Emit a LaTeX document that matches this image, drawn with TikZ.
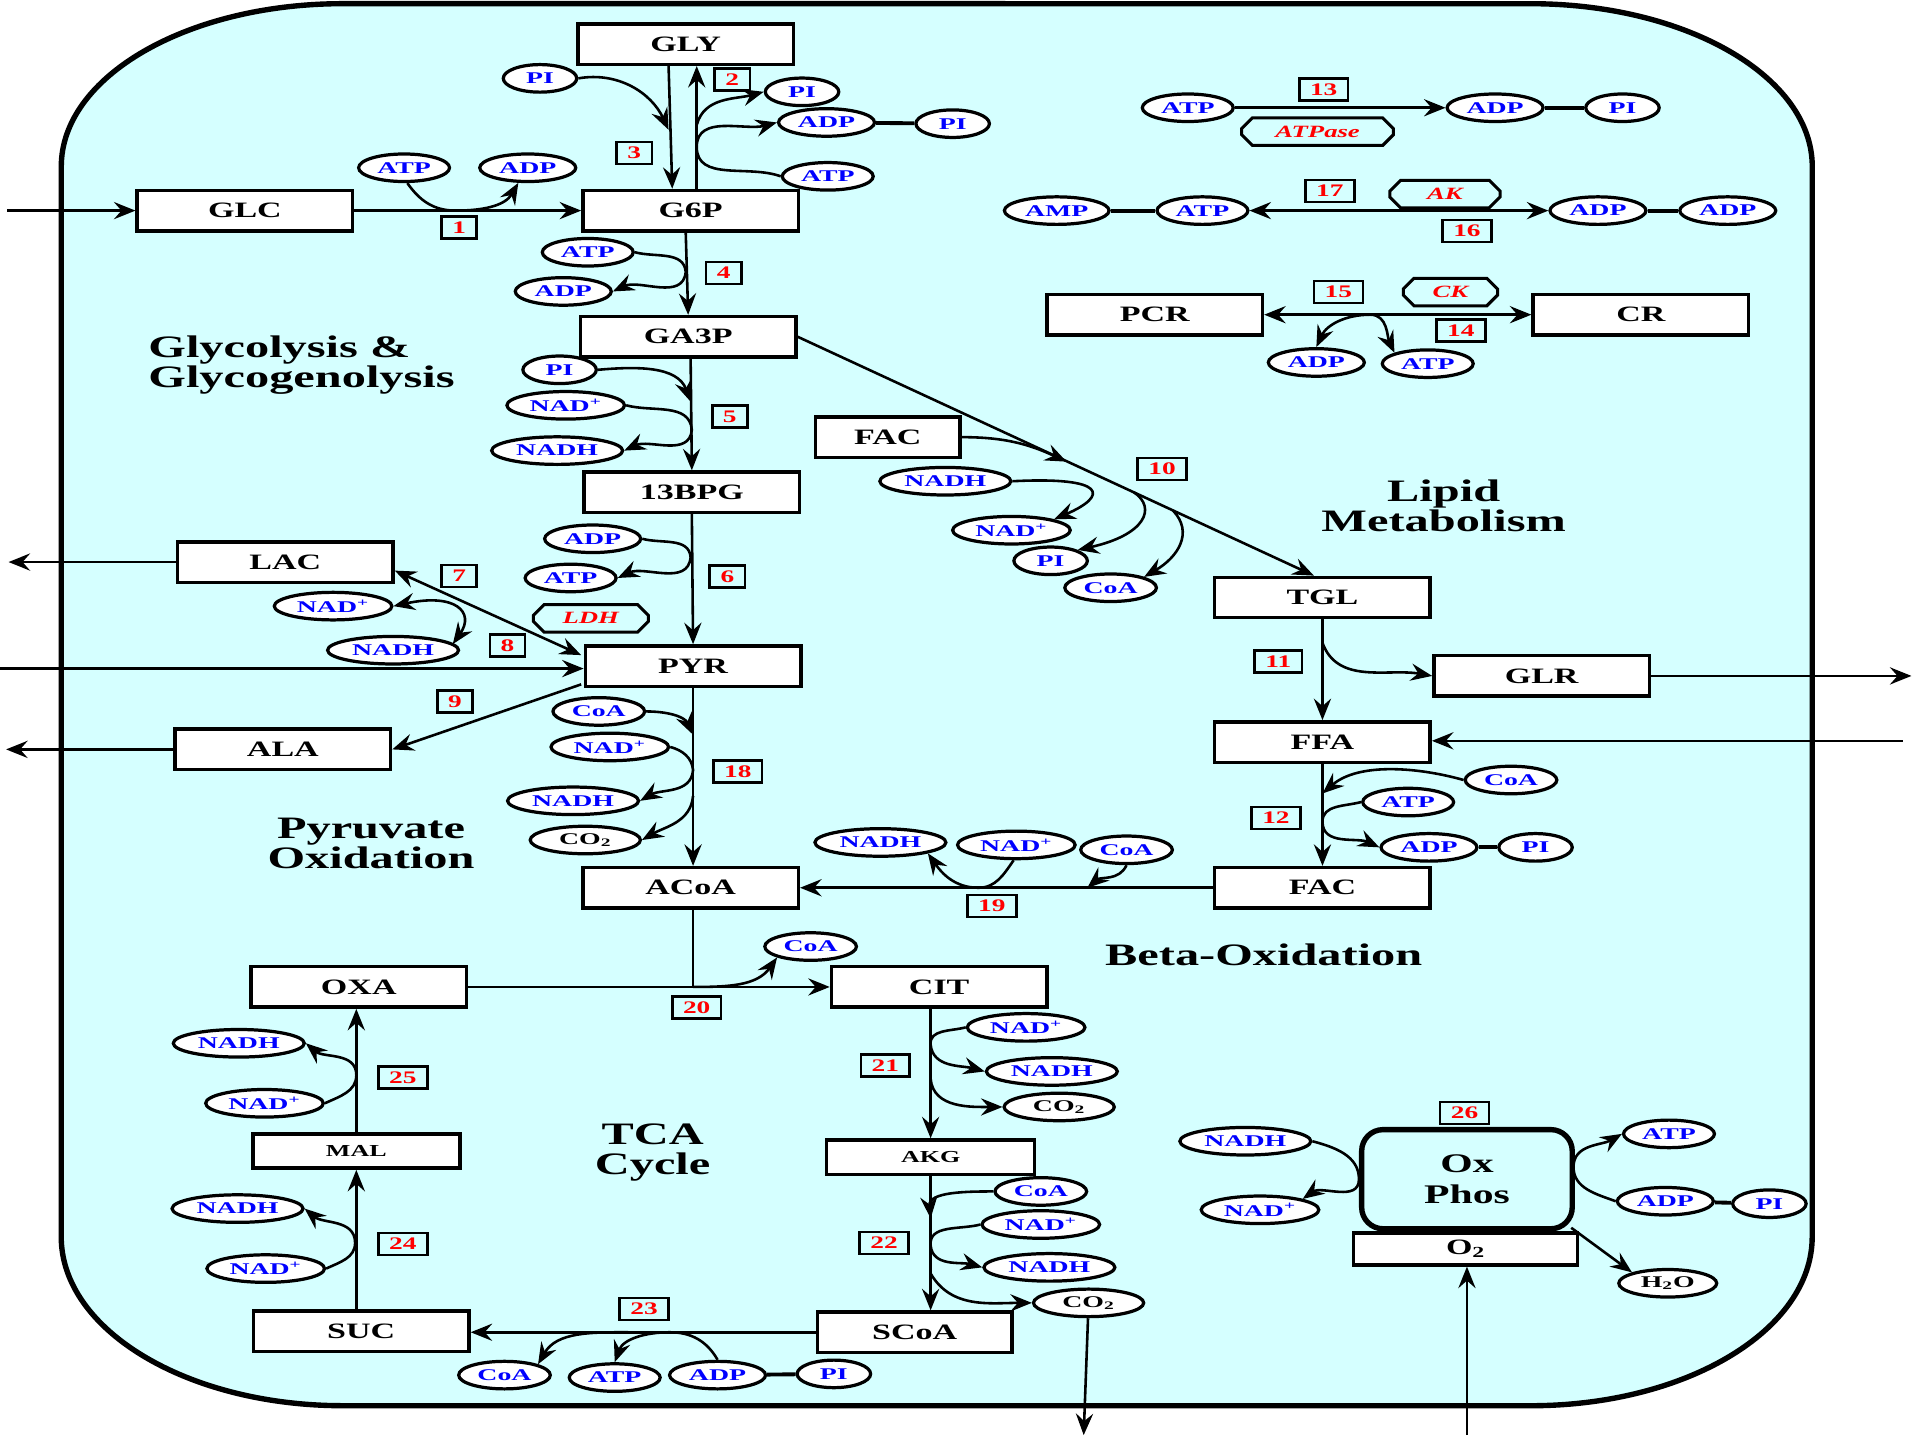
\documentclass[tikz,border=0pt]{standalone}
\usepackage{fontspec}
\setmainfont{Liberation Serif}[FakeStretch=1.55]
\newfontfamily\molfont{Liberation Serif}[FakeStretch=1.7]
\usepackage{tikz}
\usetikzlibrary{arrows.meta,calc,positioning,shapes.geometric,shapes.misc}
\definecolor{cellbg}{HTML}{D5FFFF}
\definecolor{molblue}{HTML}{0000FF}
\definecolor{numred}{HTML}{FF0000}
\newcommand{\nadp}{NAD\textsuperscript{+}}
\tikzset{%
  arrow/.style={line width=1.2pt,-{Stealth[length=10pt,width=8pt,inset=3.5pt]}},
  biarrow/.style={line width=1.2pt,{Stealth[length=10pt,width=8pt,inset=3.5pt]}-{Stealth[length=10pt,width=8pt,inset=3.5pt]}},
  link/.style={line width=1.8pt},
  cell/.style={fill=cellbg,line width=2.5pt},
  metab/.style={draw,fill=white,line width=1.6pt,minimum width=3.52cm,minimum height=0.66cm,inner sep=0pt,font=\fontsize{10.2}{11}\selectfont\bfseries},
  minor/.style={minimum height=0.56cm,font=\fontsize{7.8}{8}\selectfont\bfseries},
  mol/.style={ellipse,draw,fill=white,line width=1.5pt,minimum height=0.45cm,minimum width=1.2cm,inner xsep=2.5pt,inner ysep=1pt,text=molblue,font=\molfont\bfseries\fontsize{7.6}{8}\selectfont},
  gas/.style={mol,text=black,minimum width=1.8cm},
  enzyme/.style={chamfered rectangle,chamfered rectangle xsep=2.5pt,chamfered rectangle ysep=2.5pt,draw,line width=1.4pt,minimum height=0.45cm,inner sep=1pt,text=numred,font=\fontsize{8}{8}\selectfont\bfseries\itshape},
  rnum/.style={draw,line width=1.2pt,inner xsep=5pt,inner ysep=0pt,minimum height=0.36cm,text=numred,font=\fontsize{8.2}{8}\selectfont\bfseries},
  region/.style={align=center,font=\fontsize{14.5}{13.8}\selectfont\bfseries},
  oxbox/.style={draw,fill=cellbg,rounded corners=0.35cm,line width=2.5pt,minimum width=3.44cm,minimum height=1.62cm,align=center,font=\fontsize{12.5}{14.7}\selectfont\bfseries},
}

\begin{document}
\begin{tikzpicture}[x=0.02cm,y=0.02cm]
  \useasboundingbox (0,0) rectangle (1568,-1176);
  % cell
  \draw[cell] (50,-136) -- (50,-1010) arc[start angle=180,end angle=270,x radius=4.6cm,y radius=2.76cm]
    -- (1250,-1148) arc[start angle=270,end angle=360,x radius=4.6cm,y radius=2.76cm]
    -- (1480,-136) arc[start angle=0,end angle=90,x radius=4.6cm,y radius=2.66cm]
    -- (280,-3) arc[start angle=90,end angle=180,x radius=4.6cm,y radius=2.66cm] -- cycle;

  % metabolites
  \node[metab] (gly) at (560,-36) {GLY};
  \node[metab] (glc) at (200,-172) {GLC};
  \node[metab] (g6p) at (564,-172) {G6P};
  \node[metab] (ga3p) at (562,-275) {GA3P};
  \node[metab] (bpg) at (565,-402) {13BPG};
  \node[metab] (lac) at (233,-459) {LAC};
  \node[metab] (pyr) at (566,-544) {PYR};
  \node[metab] (ala) at (231,-612) {ALA};
  \node[metab] (acoa) at (564,-725) {ACoA};
  \node[metab] (oxa) at (293,-806) {OXA};
  \node[metab] (cit) at (767,-806) {CIT};
  \node[metab,minor,minimum width=3.38cm] (mal) at (291,-940) {MAL};
  \node[metab,minor,minimum width=3.4cm] (akg) at (760,-945) {AKG};
  \node[metab] (suc) at (295,-1087) {SUC};
  \node[metab,minimum width=3.18cm] (scoa) at (747,-1088) {SCoA};
  \node[metab,minimum width=2.36cm] (facup) at (725,-357) {FAC};
  \node[metab] (tgl) at (1080,-488) {TGL};
  \node[metab] (glr) at (1259,-552) {GLR};
  \node[metab] (ffa) at (1080,-606) {FFA};
  \node[metab] (faclow) at (1080,-725) {FAC};
  \node[metab] (pcr) at (943,-257) {PCR};
  \node[metab] (cr) at (1340,-257) {CR};
  \node[oxbox] (ox) at (1198,-963) {Ox\\Phos};
  \node[metab,minimum width=3.66cm,minimum height=0.52cm] (o2) at (1197,-1020) {O\textsubscript{2}};

  % cofactors
  \node[mol] (atp1) at (330,-137) {ATP};
  \node[mol] (adp1) at (431,-137) {ADP};
  \node[mol] (pi3) at (441,-64) {PI};
  \node[mol] (pi2) at (655,-75) {PI};
  \node[mol] (adp2) at (675,-100) {ADP};
  \node[mol] (pi2b) at (778,-101) {PI};
  \node[mol] (atp2) at (676,-144) {ATP};
  \node[mol] (atp4) at (480,-206) {ATP};
  \node[mol] (adp4) at (460,-238) {ADP};
  \node[mol] (pi5) at (457,-302) {PI};
  \node[mol] (nad5) at (462,-331) {\nadp};
  \node[mol] (nadh5) at (455,-368) {NADH};
  \node[mol] (adp6) at (484,-440) {ADP};
  \node[mol] (atp6) at (466,-472) {ATP};
  \node[mol] (nad7) at (272,-495) {\nadp};
  \node[mol] (nadh7) at (321,-531) {NADH};
  \node[mol] (coa18) at (489,-581) {CoA};
  \node[mol] (nad18) at (498,-610) {\nadp};
  \node[mol] (nadh18) at (468,-654) {NADH};
  \node[gas] (co218) at (478,-686) {CO\textsubscript{2}};
  \node[mol] (nadh19) at (719,-688) {NADH};
  \node[mol] (nad19) at (830,-690) {\nadp};
  \node[mol] (coa19) at (920,-694) {CoA};
  \node[mol] (coa20) at (662,-773) {CoA};
  \node[mol] (nad21) at (838,-839) {\nadp};
  \node[mol] (nadh21) at (859,-875) {NADH};
  \node[gas] (co221) at (865,-904) {CO\textsubscript{2}};
  \node[mol] (coa22) at (850,-973) {CoA};
  \node[mol] (nad22) at (850,-1000) {\nadp};
  \node[mol] (nadh22) at (857,-1035) {NADH};
  \node[gas] (co222) at (889,-1064) {CO\textsubscript{2}};
  \node[mol] (coa23) at (412,-1123) {CoA};
  \node[mol] (atp23) at (502,-1125) {ATP};
  \node[mol] (adp23) at (586,-1123) {ADP};
  \node[mol] (pi23) at (681,-1122) {PI};
  \node[mol] (nadh25) at (195,-852) {NADH};
  \node[mol] (nad25) at (216,-901) {\nadp};
  \node[mol] (nadh24) at (194,-987) {NADH};
  \node[mol] (nad24) at (217,-1036) {\nadp};
  \node[mol] (nadh10) at (772,-393) {NADH};
  \node[mol] (nad10) at (826,-433) {\nadp};
  \node[mol] (pi10) at (858,-458) {PI};
  \node[mol] (coa10) at (907,-480) {CoA};
  \node[mol] (coa12) at (1234,-637) {CoA};
  \node[mol] (atp12) at (1150,-655) {ATP};
  \node[mol] (adp12) at (1167,-692) {ADP};
  \node[mol] (pi12) at (1254,-692) {PI};
  \node[mol] (nadh26) at (1017,-932) {NADH};
  \node[mol] (nad26) at (1029,-988) {\nadp};
  \node[mol] (atp26) at (1363,-926) {ATP};
  \node[mol] (adp26) at (1360,-981) {ADP};
  \node[mol] (pi26) at (1445,-983) {PI};
  \node[gas,minimum width=1.6cm] (h2o26) at (1362,-1048) {H\textsubscript{2}O};
  \node[mol] (atp13) at (970,-88) {ATP};
  \node[mol] (adp13) at (1221,-88) {ADP};
  \node[mol] (pi13) at (1325,-88) {PI};
  \node[mol] (amp17) at (863,-172) {AMP};
  \node[mol] (atp17) at (982,-172) {ATP};
  \node[mol] (adp16) at (1305,-172) {ADP};
  \node[mol] (adp16b) at (1411,-172) {ADP};
  \node[mol] (adp14) at (1075,-296) {ADP};
  \node[mol] (atp14) at (1166,-297) {ATP};

  % enzymes
  \node[enzyme,minimum width=2.48cm] (atpase) at (1076,-107.5) {ATPase};
  \node[enzyme,minimum width=1.8cm] (ak) at (1180,-158.5) {AK};
  \node[enzyme,minimum width=1.54cm] (ck) at (1184.5,-238.5) {CK};
  \node[enzyme,minimum width=1.88cm] (ldh) at (482.5,-505) {LDH};

  % reaction numbers
  \node[rnum] (n1) at (375,-186) {1};
  \node[rnum] (n2) at (598,-65) {2};
  \node[rnum] (n3) at (518,-125) {3};
  \node[rnum] (n4) at (591,-223) {4};
  \node[rnum] (n5) at (596,-340) {5};
  \node[rnum] (n6) at (594,-471) {6};
  \node[rnum] (n7) at (375,-470.5) {7};
  \node[rnum] (n8) at (414.5,-527) {8};
  \node[rnum] (n9) at (371.5,-573) {9};
  \node[rnum] (n10) at (949,-383) {10};
  \node[rnum] (n11) at (1044,-540) {11};
  \node[rnum] (n12) at (1042,-668) {12};
  \node[rnum] (n13) at (1081,-73) {13};
  \node[rnum] (n14) at (1193,-270) {14};
  \node[rnum] (n15) at (1093,-238.5) {15};
  \node[rnum] (n16) at (1198,-188.5) {16};
  \node[rnum] (n17) at (1086,-156) {17};
  \node[rnum] (n18) at (602.5,-630) {18};
  \node[rnum] (n19) at (810,-740) {19};
  \node[rnum] (n20) at (569,-823) {20};
  \node[rnum] (n21) at (723,-870) {21};
  \node[rnum] (n22) at (722,-1015) {22};
  \node[rnum] (n23) at (526,-1069) {23};
  \node[rnum] (n24) at (329,-1016) {24};
  \node[rnum] (n25) at (329,-880) {25};
  \node[rnum] (n26) at (1196,-909) {26};

  % pathway labels
  \node[region,anchor=west,align=left] (glyco) at (115,-298) {Glycolysis \&\\Glycogenolysis};
  \node[region] (pyrox) at (303,-689) {Pyruvate\\Oxidation};
  \node[region] (lipid) at (1179,-413) {Lipid\\Metabolism};
  \node[region] (beta) at (1032,-780) {Beta-Oxidation};
  \node[region] (tca) at (533,-941) {TCA\\Cycle};

  % glycolysis and glycogen
  \coordinate (glcin) at (6,-172);
  \draw[arrow] (glcin) -- (glc.west);
  \draw[arrow] (glc.east) -- (g6p.west);
  \coordinate (j1) at (372,-172);
  \draw[arrow] (atp1.-78) to[out=-55,in=180] (j1) to[out=0,in=-120] (adp1.-122);
  \draw[arrow] ($(gly.south)+(-14,0)$) -- ($(g6p.north)+(-15,0)$);
  \draw[arrow] ($(g6p.north)+(5,0)$) -- ($(gly.south)+(9,0)$);
  \coordinate (j3) at (546,-106);
  \draw[arrow] (pi3.east) to[out=10,in=115] (j3);
  \coordinate (j2a) at (569,-102);
  \draw[arrow] (j2a) to[out=75,in=195] (pi2.west);
  \coordinate (j2b) at (569,-120);
  \draw[arrow] (atp2.west) to[out=160,in=-90] (j2b) to[out=90,in=195] (adp2.west);
  \draw[link] (adp2) -- (pi2b);
  \draw[arrow] ($(g6p.south)+(-4,0)$) -- (ga3p.north);
  \coordinate (j4) at (560,-222);
  \draw[arrow] (atp4.east) to[out=-15,in=95] (j4) to[out=-95,in=25] (adp4.east);
  \draw[arrow] ($(ga3p.south)+(2,0)$) -- (bpg.north);
  \coordinate (j5a) at (564,-328);
  \draw[arrow] (pi5.east) to[out=5,in=110] (j5a);
  \coordinate (j5b) at (565,-351);
  \draw[arrow] (nad5.east) to[out=-15,in=95] (j5b) to[out=-95,in=25] (nadh5.east);
  \draw[arrow] (bpg.south) -- (pyr.north);
  \coordinate (j6) at (564,-455);
  \draw[arrow] (adp6.east) to[out=-15,in=95] (j6) to[out=-95,in=25] (atp6.east);

  % lactate, alanine
  \draw[biarrow] ($(lac.east)+(0,-7)$) -- ($(pyr.west)+(-2,9)$);
  \draw[biarrow] (nad7.east) .. controls (372,-484) and (388,-500) .. ($(nadh7.east)+(-6,5)$);
  \coordinate (lacout) at (7,-459);
  \draw[arrow] (lac.west) -- (lacout);
  \coordinate (pyrin) at (0,-546);
  \draw[arrow] (pyrin) -- (pyrin -| pyr.west);
  \draw[arrow] ($(pyr.south west)+(-2,3)$) -- (ala.east);
  \coordinate (alaout) at (5,-612);
  \draw[arrow] (ala.west) -- (alaout);

  % pyruvate oxidation
  \draw[arrow] (pyr.south) -- (pyr.south |- acoa.north);
  \coordinate (j18a) at (566,-600);
  \draw[arrow] (coa18.east) to[out=0,in=115] (j18a);
  \coordinate (j18b) at (566,-629);
  \draw[arrow] (nad18.east) to[out=-15,in=95] (j18b) to[out=-95,in=30] (nadh18.east);
  \coordinate (j18c) at (566,-650);
  \draw[arrow] (j18c) to[out=-95,in=30] (co218.east);

  % beta-oxidation
  \draw[arrow] (faclow.west) -- (acoa.east);
  \coordinate (j19a) at (888,-725);
  \draw[arrow] (coa19.south) to[out=-115,in=40] (j19a);
  \coordinate (j19b) at (799,-725);
  \draw[arrow] (nad19.-100) to[out=-125,in=0] (j19b) to[out=180,in=-55] (nadh19.south east);

  % TCA cycle
  \draw[arrow] (oxa.east) -- (cit.west);
  \coordinate (j20) at (566,-806);
  \draw[line width=1.2pt] ($(acoa.south)+(2,0)$) -- (j20);
  \draw[arrow] (j20) to[out=0,in=-125] (coa20.south west);
  \draw[arrow] ($(cit.south)+(-7,0)$) -- (akg.north);
  \coordinate (j21a) at (760,-853);
  \draw[arrow] (nad21.west) to[out=195,in=95] (j21a) to[out=-85,in=165] (nadh21.west);
  \coordinate (j21b) at (760,-881);
  \draw[arrow] (j21b) to[out=-85,in=180] (co221.west);
  \draw[arrow] (akg.south) -- (akg.south |- scoa.north);
  \coordinate (j22a) at (760,-995);
  \draw[arrow] (coa22.west) to[out=180,in=95] (j22a);
  \coordinate (j22b) at (760,-1017);
  \draw[arrow] (nad22.west) to[out=195,in=95] (j22b) to[out=-85,in=165] (nadh22.west);
  \coordinate (j22c) at (760,-1040);
  \draw[arrow] (j22c) to[out=-60,in=180] (co222.west);
  \coordinate (co2out) at (885,-1172);
  \draw[arrow] (co222) -- (co2out);
  \draw[arrow] (scoa.west) -- (scoa.west -| suc.east);
  \coordinate (j23a) at (547,-1088);
  \draw[arrow] (adp23.north) to[out=120,in=0] (j23a) to[out=180,in=70] (atp23.north);
  \coordinate (j23b) at (513,-1088);
  \draw[arrow] (j23b) to[out=180,in=60] (coa23.north east);
  \draw[link] (adp23) -- (pi23);
  \draw[arrow] ($(suc.north)+(-4,0)$) -- (mal.south);
  \coordinate (j24) at (290,-1015);
  \draw[arrow] (nad24.east) to[out=25,in=-90] (j24) to[out=90,in=-40] (nadh24.east);
  \draw[arrow] (mal.north) -- (mal.north |- oxa.south);
  \coordinate (j25) at (291,-878);
  \draw[arrow] (nad25.east) to[out=25,in=-90] (j25) to[out=90,in=-40] (nadh25.east);

  % lipid metabolism
  \draw[arrow] (ga3p.east) -- ($(tgl.north)+(-7,0)$);
  \coordinate (j10a) at (871,-377);
  \draw[arrow] (facup.east) to[out=0,in=155] (j10a);
  \draw[arrow] (nadh10.east) .. controls (905,-389) and (905,-405) .. (nad10.north east);
  \coordinate (j10c) at (926,-402);
  \draw[arrow] (j10c) .. controls (945,-415) and (935,-437) .. (pi10.north east);
  \coordinate (j10d) at (958,-417);
  \draw[arrow] (j10d) .. controls (975,-435) and (962,-455) .. (coa10.north east);
  \draw[arrow] (tgl.south) -- (ffa.north);
  \coordinate (j11) at (1080,-525);
  \draw[arrow] (j11) to[out=-70,in=170] (glr.west);
  \coordinate (glrout) at (1561,-552);
  \draw[arrow] (glr.east) -- (glrout);
  \coordinate (ffain) at (1554,-605);
  \draw[arrow] (ffain) -- (ffain -| ffa.east);
  \draw[arrow] (ffa.south) -- (faclow.north);
  \coordinate (j12a) at (1080,-648);
  \draw[arrow] (coa12.west) .. controls (1160,-627) and (1110,-622) .. (j12a);
  \coordinate (j12b) at (1080,-671);
  \draw[arrow] (atp12.west) to[out=195,in=90] (j12b) to[out=-90,in=155] (adp12.west);
  \draw[link] (adp12) -- (pi12);

  % energy buffers
  \draw[arrow] (atp13) -- (adp13);
  \draw[link] (adp13) -- (pi13);
  \draw[link] (amp17) -- (atp17);
  \draw[biarrow] (atp17) -- (adp16);
  \draw[link] (adp16) -- (adp16b);
  \draw[biarrow] (pcr.east) -- (cr.west);
  \coordinate (j14) at (1119,-257);
  \draw[biarrow] (adp14.north) to[out=65,in=180] (j14) to[out=0,in=115] (atp14.north west);

  % oxidative phosphorylation
  \draw[arrow] (nadh26.east) to[out=-15,in=90] (ox.west) to[out=-90,in=35] (nad26.north east);
  \coordinate (j26) at (1285,-953);
  \draw[arrow] (adp26.west) to[out=160,in=-90] (j26) to[out=90,in=210] (atp26.west);
  \draw[link] (adp26) -- (pi26);
  \draw[arrow] ($(ox.south east)+(-3,3)$) -- (h2o26.north west);
  \coordinate (o2in) at (1198,-1172);
  \draw[arrow] (o2in) -- (o2in |- o2.south);
\end{tikzpicture}
\end{document}
